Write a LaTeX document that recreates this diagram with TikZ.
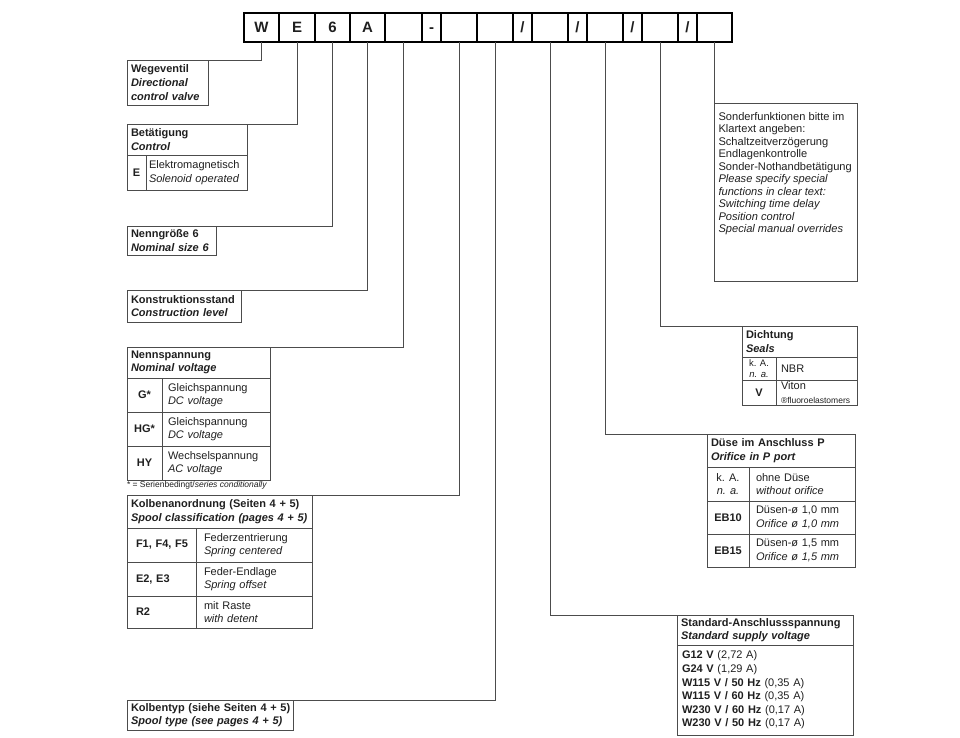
\documentclass[tikz,border=0pt]{standalone}
\usepackage{fontspec}
\setmainfont{Liberation Sans}
\usetikzlibrary{positioning,chains}

\newcommand\dfont{\fontsize{11}{13.6}\selectfont}
\newcommand\hfont{\fontsize{11}{13.6}\selectfont\bfseries}
\newcommand\sfont{\fontsize{8.5}{9.5}\selectfont}
\newcommand\kfont{\fontsize{9.5}{10.5}\selectfont}
\newcommand\cfont{\fontsize{15}{17}\selectfont\bfseries}
\newcommand\sonfont{\fontsize{11.1}{12.5}\selectfont}

\colorlet{linec}{black!70}
\colorlet{textc}{black!88}

\begin{document}
\begin{tikzpicture}[x=1pt, y=-1pt,
    node distance = 0pt,
      start chain = going right,
    every node/.append style = {text=textc, outer sep=0pt},
      cell/.style = {draw=black, line width=1.3pt, minimum height=29pt,
                     inner sep=0pt, text height=10.5pt, text depth=0pt,
                     font=\cfont, on chain},
        hd/.style 2 args = {draw=linec, line width=.8pt, anchor=north west,
                     align=left, inner xsep=4pt, inner ysep=0pt,
                     text width=#1pt-8pt, minimum height=#2pt, font=\hfont},
       key/.style 2 args = {draw=linec, line width=.8pt, minimum width=#1pt,
                     minimum height=#2pt, inner sep=0pt, align=center,
                     font=\hfont},
       dsc/.style n args = {3}{draw=linec, line width=.8pt, align=left,
                     inner xsep=#3pt, inner ysep=0pt,
                     text width=#1pt-2*#3pt, minimum height=#2pt,
                     font=\dfont},
       con/.style = {draw=linec, line width=.8pt},
                            ]
    \useasboundingbox (0,0) rectangle (960,737);
    %% type code
    \node[cell, minimum width=35pt, anchor=west] (cW) at (244,27.5) {W};
    \node[cell, minimum width=36pt] (cE) {E};
    \node[cell, minimum width=35pt] (c6) {6};
    \node[cell, minimum width=35pt] (cA) {A};
    \node[cell, minimum width=37pt] (c5) {};
    \node[cell, minimum width=19pt] (cdash) {-};
    \node[cell, minimum width=36pt] (c7) {};
    \node[cell, minimum width=36pt] (c8) {};
    \node[cell, minimum width=19pt] (sl1) {/};
    \node[cell, minimum width=36pt] (c10) {};
    \node[cell, minimum width=19pt] (sl2) {/};
    \node[cell, minimum width=36pt] (c12) {};
    \node[cell, minimum width=19pt] (sl3) {/};
    \node[cell, minimum width=36pt] (c14) {};
    \node[cell, minimum width=19pt] (sl4) {/};
    \node[cell, minimum width=35pt] (c16) {};
    %% left column
    \node[hd={81}{45}] (wege) at (127,60)
        {Wegeventil\\\textit{Directional}\\\textit{control valve}};
    %
    \node[hd={120}{31}] (bet) at (127,124) {Betätigung\\\textit{Control}};
    \node[key={19}{35}, anchor=north west] (betE) at (bet.south west) {E};
    \node[dsc={101}{35}{3}, right=of betE] (betEd)
        {Elektromagnetisch\\\textit{Solenoid operated}};
    %
    \node[hd={89}{29}] (nenn) at (127,226) {Nenngröße 6\\\textit{Nominal size 6}};
    %
    \node[hd={114}{32}] (konst) at (127,290)
        {\mbox{Konstruktionsstand}\\\textit{Construction level}};
    %
    \node[hd={143}{31}] (nsp) at (127,347) {Nennspannung\\\textit{Nominal voltage}};
    \node[key={35}{34}, anchor=north west] (nspG) at (nsp.south west) {G*};
    \node[dsc={108}{34}{6}, right=of nspG] (nspGd) {Gleichspannung\\\textit{DC voltage}};
    \node[key={35}{34}, below=of nspG] (nspHG) {HG*};
    \node[dsc={108}{34}{6}, right=of nspHG] (nspHGd) {Gleichspannung\\\textit{DC voltage}};
    \node[key={35}{34}, below=of nspHG] (nspHY) {HY};
    \node[dsc={108}{34}{6}, right=of nspHY] (nspHYd) {Wechselspannung\\\textit{AC voltage}};
    \node[anchor=north west, inner sep=0pt, font=\sfont, yshift=-1.5pt] (nspnote)
        at (nspHY.south west) {* = Serienbedingt/\textit{series conditionally}};
    %
    \node[hd={185}{33}] (kan) at (127,495)
        {\mbox{Kolbenanordnung (Seiten 4 + 5)}\\
         \mbox{\textit{Spool classification (pages 4 + 5)}}};
    \node[dsc={69}{34}{9}, font=\hfont, anchor=north west] (kanF)
        at (kan.south west) {\mbox{F1, F4, F5}};
    \node[dsc={116}{34}{8}, right=of kanF] (kanFd) {Federzentrierung\\\textit{Spring centered}};
    \node[dsc={69}{34}{9}, font=\hfont, below=of kanF] (kanE) {E2, E3};
    \node[dsc={116}{34}{8}, right=of kanE] (kanEd) {Feder-Endlage\\\textit{Spring offset}};
    \node[dsc={69}{32}{9}, font=\hfont, below=of kanE] (kanR) {R2};
    \node[dsc={116}{32}{8}, right=of kanR] (kanRd) {mit Raste\\\textit{with detent}};
    %
    \node[hd={166}{30}] (ktyp) at (127,700)
        {\mbox{Kolbentyp (siehe Seiten 4 + 5)}\\
         \mbox{\textit{Spool type (see pages 4 + 5)}}};
    %% right column
    \node[draw=linec, line width=.8pt, anchor=north west, inner xsep=4pt,
          inner ysep=9pt, font=\sonfont] (sonder) at (c16.south |- 0,103)
        {\parbox[t][160pt][t]{135pt}{Sonderfunktionen bitte im\\
         Klartext angeben:\\
         Schaltzeitverzögerung\\
         Endlagenkontrolle\\
         Sonder-Nothandbetätigung\\
         \textit{Please specify special}\\
         \textit{functions in clear text:}\\
         \textit{Switching time delay}\\
         \textit{Position control}\\
         \textit{Special manual overrides}}};
    %
    \node[hd={115}{31}] (dicht) at (742,326) {Dichtung\\\textit{Seals}};
    \node[key={34}{23}, anchor=north west, font=\kfont] (dichtKA)
        at (dicht.south west) {k. A.\\\textit{n. a.}};
    \node[dsc={81}{23}{5}, right=of dichtKA] (dichtKAd) {NBR};
    \node[key={34}{25}, below=of dichtKA] (dichtV) {V};
    \node[dsc={81}{25}{5}, right=of dichtV] (dichtVd)
        {Viton\\{\sfont ®fluoroelastomers}};
    %
    \node[hd={148}{33}] (duese) at (707,434) {Düse im Anschluss P\\\textit{Orifice in P port}};
    \node[key={42}{34}, anchor=north west, font=\dfont] (dueKA)
        at (duese.south west) {k. A.\\\textit{n. a.}};
    \node[dsc={106}{34}{7}, right=of dueKA] (dueKAd) {ohne Düse\\\textit{without orifice}};
    \node[key={42}{33}, below=of dueKA] (dueEB10) {EB10};
    \node[dsc={106}{33}{7}, right=of dueEB10] (dueEB10d)
        {Düsen-ø 1,0 mm\\\textit{Orifice ø 1,0 mm}};
    \node[key={42}{33}, below=of dueEB10] (dueEB15) {EB15};
    \node[dsc={106}{33}{7}, right=of dueEB15] (dueEB15d)
        {Düsen-ø 1,5 mm\\\textit{Orifice ø 1,5 mm}};
    %
    \node[hd={176}{30}] (std) at (677,615)
        {Standard-Anschlussspannung\\\textit{Standard supply voltage}};
    \node[dsc={176}{90}{5}, anchor=north west] (stdlist) at (std.south west)
        {\textbf{G12 V} (2,72 A)\\
         \textbf{G24 V} (1,29 A)\\
         \textbf{W115 V / 50 Hz} (0,35 A)\\
         \textbf{W115 V / 60 Hz} (0,35 A)\\
         \textbf{W230 V / 60 Hz} (0,17 A)\\
         \textbf{W230 V / 50 Hz} (0,17 A)};
    %% leader lines
    \draw[con]  (cW.south)  |- (wege.north east)
                (cE.south)  |- (bet.north east)
                (c6.south)  |- (nenn.north east)
                (cA.south)  |- (konst.north east)
                (c5.south)  |- (nsp.north east)
                (c7.south)  |- (kan.north east)
                (c8.south)  |- (ktyp.north east)
                (c10.south) |- (std.north west)
                (c12.south) |- (duese.north west)
                (c14.south) |- (dicht.north west)
                (c16.south) -- (sonder.north west);
\end{tikzpicture}
\end{document}
